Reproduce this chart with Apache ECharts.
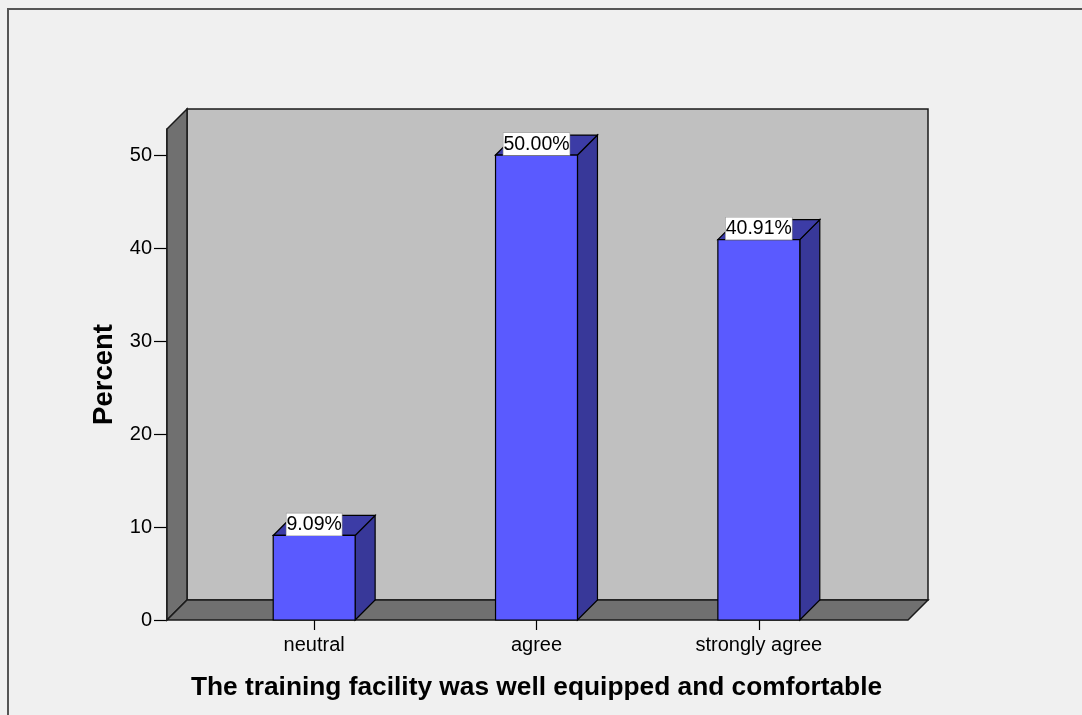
<!DOCTYPE html>
<html>
<head>
<meta charset="utf-8">
<title>The training facility was well equipped and comfortable</title>
<script src="https://cdn.jsdelivr.net/npm/echarts@6/dist/echarts.min.js"></script>
<style>
  html, body { margin: 0; padding: 0; background: #f0f0f0; }
  #chart { width: 1082px; height: 715px; }
</style>
</head>
<body>
<div id="chart"></div>
<script>
// Response categories and their share of respondents (%)
const categories = ['neutral', 'agree', 'strongly agree'];
const percentValues = [9.09, 50.00, 40.91];
const yTickValues = [0, 10, 20, 30, 40, 50];
const yMax = 52.8;

const FONT = '"Liberation Sans", Arial, Helvetica, sans-serif';
const DEPTH = 20;          // 3D depth offset in pixels
const BAR_RATIO = 0.3685;  // bar width as a share of the category band

const chart = echarts.init(document.getElementById('chart'), null, { renderer: 'canvas' });

// Back wall, side wall and floor of the 3D box, spanning the frame grid
function renderFrame(params, api) {
  const p0 = api.coord([0, 0]);
  const p1 = api.coord([1, yMax]);
  const x0 = p0[0], y0 = p0[1], x1 = p1[0], y1 = p1[1];
  const d = DEPTH;
  const edge = { stroke: '#1a1a1a', lineWidth: 1.5 };
  return {
    type: 'group',
    children: [
      {
        type: 'rect',
        shape: { x: x0 + d, y: y1 - d, width: x1 - x0, height: y0 - y1 },
        style: Object.assign({ fill: '#c0c0c0' }, edge)
      },
      {
        type: 'polygon',
        shape: { points: [[x0, y1], [x0 + d, y1 - d], [x0 + d, y0 - d], [x0, y0]] },
        style: Object.assign({ fill: '#707070' }, edge)
      },
      {
        type: 'polygon',
        shape: { points: [[x0, y0], [x0 + d, y0 - d], [x1 + d, y0 - d], [x1, y0]] },
        style: Object.assign({ fill: '#707070' }, edge)
      }
    ]
  };
}

// One 3D bar: front face, right side, top face and value label
function renderBar(params, api) {
  const idx = api.value(0);
  const val = api.value(1);
  const base = api.coord([idx, 0]);
  const top = api.coord([idx, val]);
  const band = api.size([1, 0])[0];
  const w = band * BAR_RATIO;
  const xl = base[0] - w / 2, xr = xl + w;
  const yb = base[1], yt = top[1];
  const d = DEPTH;
  const edge = { stroke: '#000', lineWidth: 1.2 };
  return {
    type: 'group',
    children: [
      {
        type: 'polygon',
        shape: { points: [[xr, yb], [xr + d, yb - d], [xr + d, yt - d], [xr, yt]] },
        style: Object.assign({ fill: '#383899' }, edge)
      },
      {
        type: 'polygon',
        shape: { points: [[xl, yt], [xl + d, yt - d], [xr + d, yt - d], [xr, yt]] },
        style: Object.assign({ fill: '#3c3ca6' }, edge)
      },
      {
        type: 'rect',
        shape: { x: xl, y: yt, width: w, height: yb - yt },
        style: Object.assign({ fill: '#5a5aff' }, edge)
      },
      {
        type: 'text',
        z2: 10,
        style: {
          text: val.toFixed(2) + '%',
          x: (xl + xr) / 2,
          y: yt,
          align: 'center',
          verticalAlign: 'bottom',
          fill: '#000',
          fontFamily: FONT,
          fontSize: 19.5,
          lineHeight: 21,
          backgroundColor: '#ffffff',
          borderColor: '#9a9a9a',
          borderWidth: 0.6,
          padding: [1, 0, 0, 0]
        }
      }
    ]
  };
}

const option = {
  backgroundColor: '#f0f0f0',
  animation: false,
  textStyle: { fontFamily: FONT },
  graphic: [
    {
      type: 'rect',
      shape: { x: 8, y: 9, width: 1300, height: 1300 },
      style: { fill: 'none', stroke: '#555555', lineWidth: 2 },
      silent: true,
      z: -10
    }
  ],
  grid: [
    { left: 167, right: 174, top: 129, bottom: 95 },
    { left: 203, right: 212, top: 129, bottom: 95 }
  ],
  xAxis: [
    { type: 'value', gridIndex: 0, min: 0, max: 1, show: false },
    {
      type: 'category',
      gridIndex: 1,
      data: categories,
      axisLine: { show: false },
      axisTick: { show: true, alignWithLabel: true, length: 10, lineStyle: { color: '#000', width: 1.2 } },
      axisLabel: { color: '#000', fontSize: 20, fontFamily: FONT, margin: 15 },
      splitLine: { show: false },
      name: 'The training facility was well equipped and comfortable',
      nameLocation: 'middle',
      nameGap: 55,
      nameTextStyle: { color: '#000', fontSize: 26.3, fontWeight: 'bold', fontFamily: FONT }
    }
  ],
  yAxis: [
    {
      type: 'value',
      gridIndex: 0,
      min: 0,
      max: yMax,
      interval: 10,
      axisLine: { show: true, lineStyle: { color: '#000', width: 1.5 } },
      axisTick: { show: true, length: 13, customValues: yTickValues, lineStyle: { color: '#000', width: 1.2 } },
      axisLabel: { customValues: yTickValues, color: '#000', fontSize: 20, fontFamily: FONT, margin: 15 },
      splitLine: { show: false },
      name: 'Percent',
      nameLocation: 'middle',
      nameGap: 41,
      nameRotate: 90,
      nameTextStyle: { color: '#000', fontSize: 27.5, fontWeight: 'bold', fontFamily: FONT }
    },
    { type: 'value', gridIndex: 1, min: 0, max: yMax, show: false }
  ],
  series: [
    {
      type: 'custom',
      name: 'frame',
      xAxisIndex: 0,
      yAxisIndex: 0,
      clip: false,
      silent: true,
      z: 1,
      data: [[0, 0]],
      renderItem: renderFrame
    },
    {
      type: 'custom',
      name: 'Percent',
      xAxisIndex: 1,
      yAxisIndex: 1,
      clip: false,
      z: 5,
      data: percentValues.map((v, i) => [i, v]),
      renderItem: renderBar
    }
  ]
};

chart.setOption(option);
</script>
</body>
</html>
